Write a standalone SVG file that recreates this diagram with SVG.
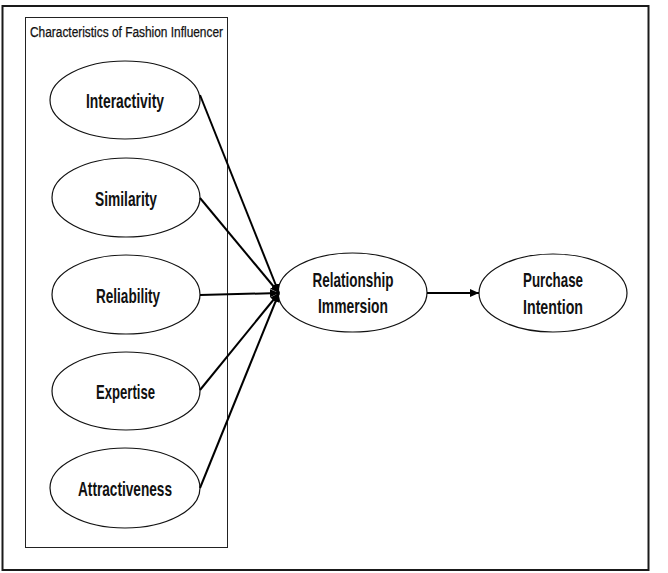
<svg xmlns="http://www.w3.org/2000/svg" width="668" height="573" viewBox="0 0 668 573">
<style>
.frame{fill:#fff;stroke:#1a1a1a;stroke-width:2}
.box{fill:none;stroke:#222;stroke-width:1}
.node ellipse{fill:#fff;stroke:#111;stroke-width:1.2}
.lbl{font-family:"Liberation Sans","DejaVu Sans",sans-serif;font-weight:bold;font-size:20.5px;fill:#111;text-anchor:middle}
.title{font-family:"Liberation Sans","DejaVu Sans",sans-serif;font-size:14px;fill:#111;stroke:#111;stroke-width:0.25}
.conn line{stroke:#000;stroke-width:2}
</style>
<defs>
<marker id="ah" markerUnits="userSpaceOnUse" markerWidth="10" markerHeight="10" refX="9" refY="4" orient="auto">
<path d="M0,0 L9,4 L0,8 z" fill="#000"/>
</marker>
</defs>
<rect width="668" height="573" fill="#fff"/>
<rect class="frame" x="2.5" y="6" width="646" height="564"/>
<g id="group-characteristics">
<rect class="box" x="25.5" y="17.5" width="202" height="530"/>
<text class="title" x="30" y="36.5" textLength="193" lengthAdjust="spacingAndGlyphs">Characteristics of Fashion Influencer</text>
</g>
<g id="interactivity" class="node">
<ellipse cx="125" cy="100" rx="75" ry="39"/>
<text class="lbl" x="125" y="108" textLength="78" lengthAdjust="spacingAndGlyphs">Interactivity</text>
</g>
<g id="similarity" class="node">
<ellipse cx="126" cy="197.5" rx="74" ry="39.5"/>
<text class="lbl" x="126" y="206" textLength="62" lengthAdjust="spacingAndGlyphs">Similarity</text>
</g>
<g id="reliability" class="node">
<ellipse cx="126" cy="294.5" rx="74" ry="39.5"/>
<text class="lbl" x="128" y="303" textLength="64" lengthAdjust="spacingAndGlyphs">Reliability</text>
</g>
<g id="expertise" class="node">
<ellipse cx="126" cy="391" rx="74" ry="39"/>
<text class="lbl" x="125.5" y="399" textLength="59" lengthAdjust="spacingAndGlyphs">Expertise</text>
</g>
<g id="attractiveness" class="node">
<ellipse cx="125" cy="488" rx="75" ry="40"/>
<text class="lbl" x="125" y="496" textLength="94" lengthAdjust="spacingAndGlyphs">Attractiveness</text>
</g>
<g id="relationship-immersion" class="node">
<ellipse cx="352.5" cy="292.5" rx="74.5" ry="39.5"/>
<text class="lbl" x="353" y="287" textLength="81" lengthAdjust="spacingAndGlyphs">Relationship</text>
<text class="lbl" x="353" y="313" textLength="70" lengthAdjust="spacingAndGlyphs">Immersion</text>
</g>
<g id="purchase-intention" class="node">
<ellipse cx="553" cy="293" rx="74" ry="39"/>
<text class="lbl" x="553" y="287" textLength="60" lengthAdjust="spacingAndGlyphs">Purchase</text>
<text class="lbl" x="553" y="314" textLength="60" lengthAdjust="spacingAndGlyphs">Intention</text>
</g>
<g id="connectors" class="conn">
<line x1="200" y1="95" x2="279" y2="293" marker-end="url(#ah)"/>
<line x1="200" y1="198" x2="279" y2="293" marker-end="url(#ah)"/>
<line x1="200" y1="295" x2="279" y2="293" marker-end="url(#ah)"/>
<line x1="200" y1="390" x2="279" y2="293" marker-end="url(#ah)"/>
<line x1="200" y1="488" x2="279" y2="293" marker-end="url(#ah)"/>
<line x1="427" y1="293" x2="479" y2="293" marker-end="url(#ah)"/>
</g>
</svg>
